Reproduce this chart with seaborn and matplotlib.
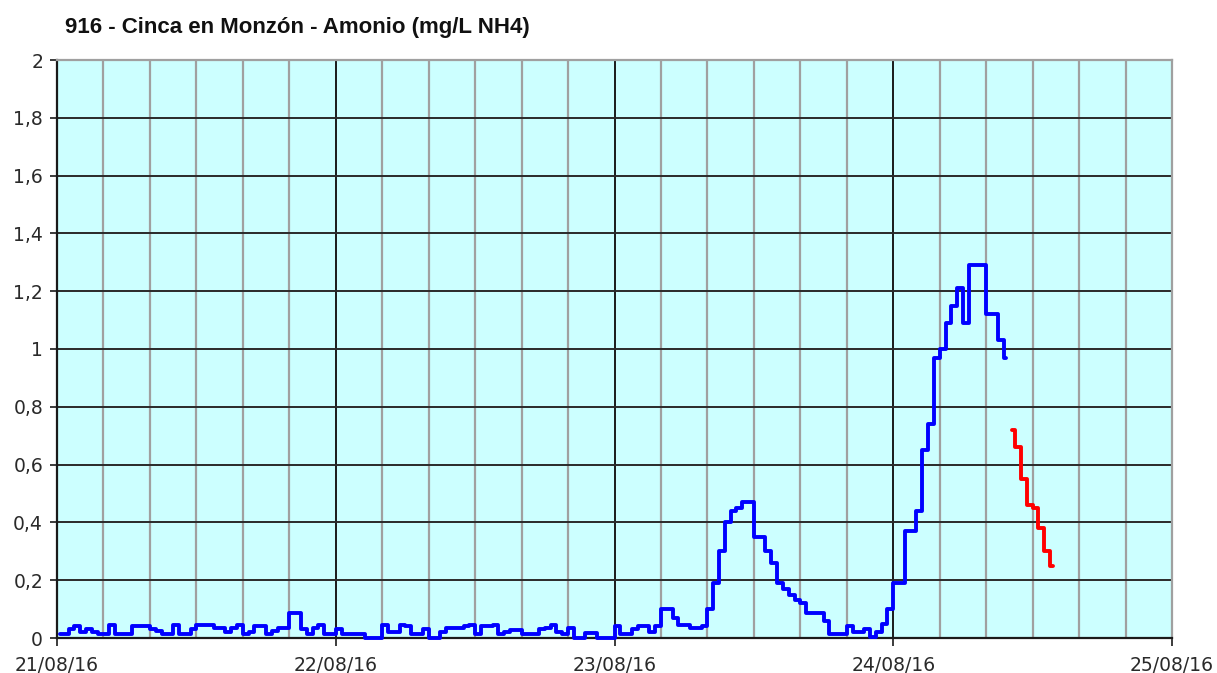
import pandas as pd
import numpy as np
import matplotlib.pyplot as plt
import seaborn as sns

# half-hour readings, ammonium mg/L NH4
day_21 = [0.015, 0.015, 0.03, 0.04, 0.02, 0.03, 0.02, 0.015, 0.015, 0.045, 0.015, 0.015,
          0.015, 0.04, 0.04, 0.04, 0.03, 0.025, 0.015, 0.015, 0.045, 0.015, 0.015, 0.03,
          0.045, 0.045, 0.045, 0.035, 0.035, 0.02, 0.035, 0.045, 0.015, 0.02, 0.04, 0.04,
          0.015, 0.025, 0.035, 0.035, 0.085, 0.085, 0.03, 0.015, 0.035, 0.045, 0.015, 0.015]
day_22 = [0.03, 0.015, 0.015, 0.015, 0.015, 0.0, 0.0, 0.0, 0.045, 0.02, 0.02, 0.045,
          0.04, 0.015, 0.015, 0.03, 0.0, 0.0, 0.02, 0.033, 0.033, 0.033, 0.04, 0.045,
          0.015, 0.04, 0.04, 0.045, 0.015, 0.02, 0.028, 0.028, 0.015, 0.015, 0.015, 0.03,
          0.033, 0.045, 0.02, 0.015, 0.035, 0.0, 0.0, 0.018, 0.018, 0.0, 0.0, 0.0]
day_23 = [0.04, 0.015, 0.015, 0.03, 0.04, 0.04, 0.02, 0.04, 0.10, 0.10, 0.07, 0.045,
          0.045, 0.033, 0.033, 0.04, 0.10, 0.19, 0.30, 0.40, 0.44, 0.45, 0.47, 0.47,
          0.35, 0.35, 0.30, 0.26, 0.19, 0.17, 0.15, 0.13, 0.12, 0.085, 0.085, 0.085,
          0.06, 0.015, 0.015, 0.015, 0.04, 0.02, 0.02, 0.03, 0.005, 0.02, 0.05, 0.10]
day_24 = [0.19, 0.19, 0.37, 0.37, 0.44, 0.65, 0.74, 0.97, 1.0, 1.09, 1.15, 1.21,
          1.09, 1.29, 1.29, 1.29, 1.12, 1.12, 1.03, 0.97]
# second series (red) continues right after the blue one
red_vals = [0.72, 0.66, 0.55, 0.46, 0.45, 0.38, 0.30, 0.25]

day_labels = ['21/08/16', '22/08/16', '23/08/16', '24/08/16', '25/08/16']
title = '916 - Cinca en Monzón - Amonio (mg/L NH4)'

blue_vals = day_21 + day_22 + day_23 + day_24
blue = pd.DataFrame({'t': (np.arange(len(blue_vals)) + 0.5) * 0.5, 'v': blue_vals})
red = pd.DataFrame({'t': (np.arange(len(red_vals)) + len(blue_vals) + 0.5) * 0.5, 'v': red_vals})

sns.set_style('white')
plt.rcParams['font.family'] = ['DejaVu Sans']

fig = plt.figure(figsize=(12.17, 6.73), dpi=100)
ax = fig.add_axes([57 / 1217, 35 / 673, 1115 / 1217, 578 / 673])
ax.set_facecolor('#ccffff')

# grid: minor every 4 h gray, days black, horizontal black
for h in range(4, 96, 4):
    if h % 24:
        ax.axvline(h, color='#a0a0a0', lw=1.6, zorder=1)
for h in range(24, 96, 24):
    ax.axvline(h, color='#1a1a1a', lw=1.4, zorder=1)
for y in np.arange(0.2, 2.01, 0.2):
    ax.axhline(y, color='#2a2a2a', lw=1.4, zorder=1)

sns.lineplot(data=blue, x='t', y='v', ax=ax, color='#0000ff', lw=2.8,
             drawstyle='steps-mid', zorder=4, clip_on=False)
sns.lineplot(data=red, x='t', y='v', ax=ax, color='#ff0000', lw=2.8,
             drawstyle='steps-mid', zorder=4, clip_on=False)

ax.set_xlim(0, 96)
ax.set_ylim(0, 2)
ax.set_xticks(range(0, 97, 24))
ax.set_xticklabels(day_labels)
yt = np.round(np.arange(0, 2.01, 0.2), 1)
ax.set_yticks(yt)
ax.set_yticklabels([('%g' % v).replace('.', ',') for v in yt])
ax.set_xlabel('')
ax.set_ylabel('')
ax.tick_params(axis='x', length=6, width=1.2, color='#1a1a1a', pad=7,
               labelsize=13.5, labelcolor='#2a2a2a', bottom=True)
ax.tick_params(axis='y', length=5, width=1.2, color='#1a1a1a', pad=5,
               labelsize=13.5, labelcolor='#2a2a2a', left=True)

for side in ['left', 'bottom']:
    ax.spines[side].set_color('#1a1a1a')
    ax.spines[side].set_linewidth(1.6)
for side in ['top', 'right']:
    ax.spines[side].set_color('#a0a0a0')
    ax.spines[side].set_linewidth(1.6)

fig.text(65 / 1217, 1 - 27 / 673, title, fontsize=16, fontweight='bold',
         family='Liberation Sans', va='center', ha='left', color='#111111')

fig.savefig('out.png', dpi=100, facecolor='white')
